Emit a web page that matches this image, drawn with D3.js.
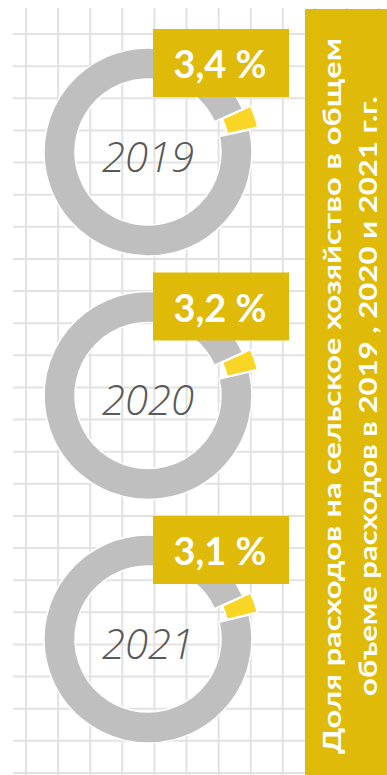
<!DOCTYPE html>
<html><head><meta charset="utf-8">
<script src="https://cdn.jsdelivr.net/npm/d3@7"></script>
<style>html,body{margin:0;padding:0;background:#fff;overflow:hidden}text{font-variant-numeric:lining-nums;font-feature-settings:"lnum" 1}</style>
</head><body>
<svg id="c" width="387" height="775"></svg>
<script>
const years = ["2019", "2020", "2021"];
const shares = [3.4, 3.2, 3.1];
const shareLabels = ["3,4 %", "3,2 %", "3,1 %"];
const titleLines = [
  "Доля расходов на сельское хозяйство в общем",
  "объеме расходов в 2019 , 2020 и 2021 г.г."
];

const W = 387, H = 775;
const svg = d3.select("#c");
const C = {grid:"#e2e2e2", ring:"#bfbfbf", slice:"#f9d525", box:"#dfba08", year:"#595959"};

// background grid
const g = svg.append("g");
const gx = d3.range(26, W + 1, 32.1);
const gy = d3.range(34, H + 1, 32.13);
g.selectAll("line.v").data(gx).join("line")
  .attr("x1", d => d).attr("x2", d => d).attr("y1", 8).attr("y2", H)
  .attr("stroke", C.grid).attr("stroke-width", 2);
g.selectAll("line.h").data(gy).join("line")
  .attr("y1", d => d).attr("y2", d => d).attr("x1", 13).attr("x2", W)
  .attr("stroke", C.grid).attr("stroke-width", 2);

// donut positions
const yPos = d3.scalePoint().domain(years).range([152, 639]);
const cx = 148;
const rIn = 73, rOut = 104, explode = 8.5;
const pie = d3.pie().sort(null).value(d => d.v)
  .startAngle(65.5 * Math.PI / 180).endAngle(65.5 * Math.PI / 180 + 2 * Math.PI);
const arc = d3.arc().innerRadius(rIn).outerRadius(rOut);

years.forEach((yr, i) => {
  const cy = yPos(yr);
  const grp = svg.append("g").attr("transform", `translate(${cx},${cy})`);
  const arcs = pie([{k:"share", v:shares[i]}, {k:"rest", v:100 - shares[i]}]);
  grp.selectAll("path").data(arcs).join("path")
    .attr("d", arc)
    .attr("fill", d => d.data.k === "share" ? C.slice : C.ring)
    .attr("stroke", "#fff").attr("stroke-width", 1.5)
    .attr("transform", d => {
      if (d.data.k !== "share") return null;
      const a = (d.startAngle + d.endAngle) / 2;
      return `translate(${explode * Math.sin(a)},${-explode * Math.cos(a)})`;
    });
  grp.append("text").text(yr)
    .attr("x", 0).attr("y", 19.5)
    .attr("text-anchor", "middle")
    .attr("font-family", "'Open Sans', Lato, sans-serif")
    .attr("font-weight", 300).attr("font-style", "italic")
    .attr("font-size", 43)
    .attr("textLength", 92).attr("lengthAdjust", "spacingAndGlyphs")
    .attr("fill", C.year);

  // label box
  svg.append("rect")
    .attr("x", 153).attr("y", cy - 123).attr("width", 136).attr("height", 68)
    .attr("fill", C.box);
  svg.append("text").text(shareLabels[i])
    .attr("x", 220).attr("y", cy - 74)
    .attr("text-anchor", "middle")
    .attr("font-family", "Lato, 'Open Sans', sans-serif")
    .attr("font-weight", 700).attr("font-size", 38)
    .attr("textLength", 93).attr("lengthAdjust", "spacingAndGlyphs")
    .attr("fill", "#fff");
});

// title box
svg.append("rect").attr("x", 305).attr("y", 9).attr("width", W - 305).attr("height", H - 9)
  .attr("fill", C.box);
const tLens = [716, 600];
const tBase = [341, 377];
titleLines.forEach((t, i) => {
  svg.append("text").text(t)
    .attr("transform", `translate(${tBase[i]},396) rotate(-90)`)
    .attr("text-anchor", "middle")
    .attr("font-family", "Lato, 'Open Sans', sans-serif")
    .attr("font-weight", 700).attr("font-size", 24)
    .attr("textLength", tLens[i]).attr("lengthAdjust", "spacingAndGlyphs")
    .attr("fill", "#fff");
});
</script>
</body></html>
